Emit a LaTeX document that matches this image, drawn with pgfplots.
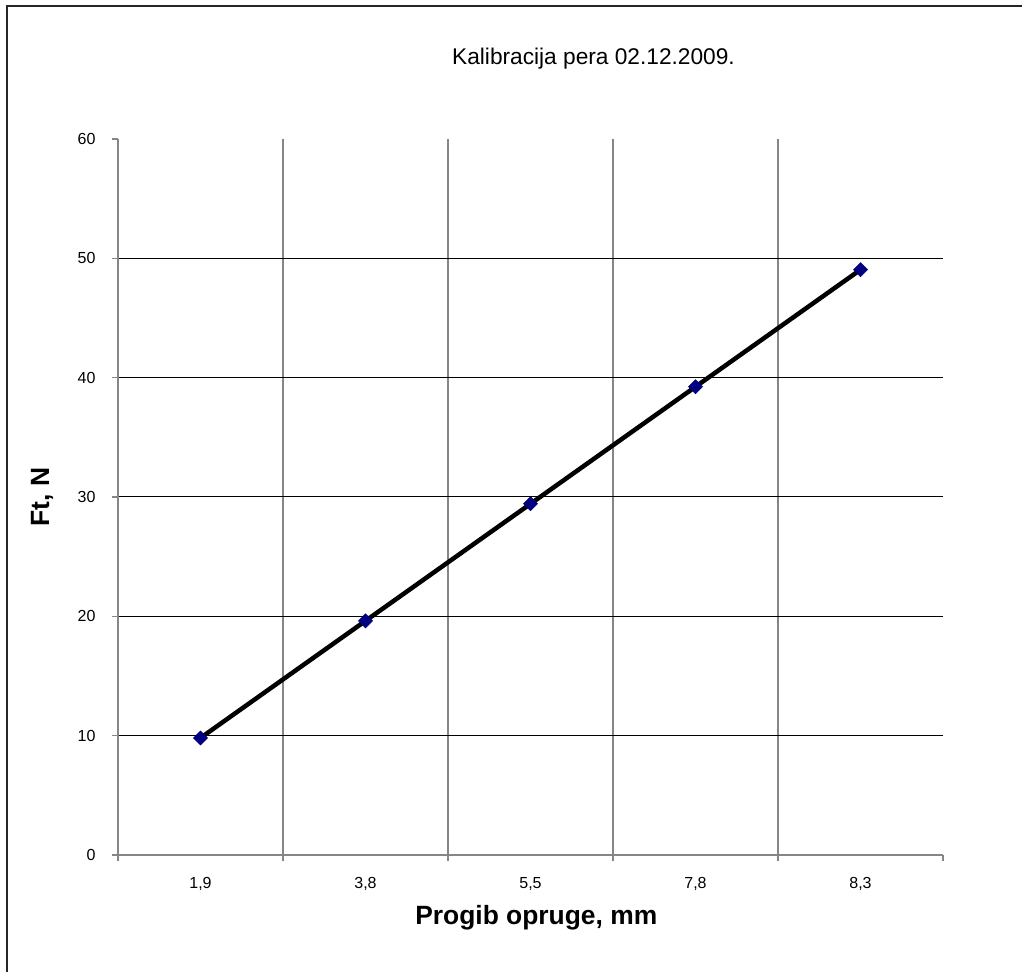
\documentclass[border=0pt]{standalone}
\usepackage{pgfplots}
\pgfplotsset{compat=1.18}
\usepackage{fontspec}
\setmainfont{Liberation Sans}
\definecolor{axgray}{HTML}{868686}
\definecolor{navym}{HTML}{000080}
\begin{document}
\begin{tikzpicture}[x=1pt,y=1pt]
\path[use as bounding box] (0,0) rectangle (1022,972);
\draw[line width=2pt,color=black!85] (7,0) -- (7,966) -- (1022,966);
\node[font=\fontsize{22.7}{26}\selectfont] at (593.5,913) {Kalibracija pera 02.12.2009.};
\begin{axis}[
  at={(118pt,117pt)}, anchor=south west,
  scale only axis, width=825pt, height=716pt,
  xmin=0.5, xmax=5.5, ymin=0, ymax=60,
  axis x line=bottom, axis y line=left,
  axis line style={-, color=axgray, line width=1.5pt},
  xtick={1,2,3,4,5},
  xticklabels={{1,9},{3,8},{5,5},{7,8},{8,3}},
  major x tick style={draw=none},
  minor xtick={0.5,1.5,2.5,3.5,4.5},
  xminorgrids,
  minor x grid style={color=axgray, line width=1.2pt},
  minor x tick style={color=axgray, line width=1.5pt},
  extra x ticks={5.5}, extra x tick labels={},
  extra x tick style={grid=none, major x tick style={color=axgray, line width=1.5pt, draw=axgray}},
  ytick={0,10,20,30,40,50},
  ymajorgrids,
  major y grid style={color=black, line width=1pt},
  y tick style={color=axgray, line width=1.5pt},
  extra y ticks={60}, extra y tick style={grid=none},
  tick align=outside,
  major tick length=6pt, minor tick length=6pt,
  tick label style={font=\fontsize{16}{18}\selectfont},
  /pgf/number format/assume math mode=true,
  xticklabel style={yshift=-13pt},
  yticklabel style={xshift=-13pt},
  xlabel={\textbf{Progib opruge, mm}},
  ylabel={\textbf{Ft, N}},
  label style={font=\fontsize{26.4}{30}\selectfont},
  xlabel style={at={(axis description cs:0.507,-0.088)}, anchor=center},
  ylabel style={at={(axis description cs:-0.0921,0.5)}, anchor=center},
  clip=false,
]
\addplot[color=black, line width=4.5pt, mark=square*, mark size=5pt,
  mark options={fill=navym, draw=navym, line width=0.5pt, rotate=45}]
  coordinates {(1,9.81) (2,19.62) (3,29.43) (4,39.24) (5,49.05)};
\end{axis}
\end{tikzpicture}
\end{document}
